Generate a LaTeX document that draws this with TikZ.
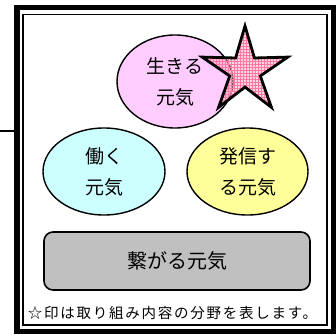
\documentclass[tikz,border=0pt]{standalone}
\usepackage{fontspec}
\setmainfont{Noto Sans CJK JP}
\usetikzlibrary{shapes.geometric,patterns}
\definecolor{ikipink}{RGB}{255,204,255}
\definecolor{hatacyan}{RGB}{204,255,255}
\definecolor{hassinyel}{RGB}{255,255,153}
\definecolor{tsunagray}{RGB}{192,192,192}
\definecolor{starpink}{RGB}{255,170,200}
\definecolor{gridpink}{RGB}{255,120,160}

\begin{document}
\begin{tikzpicture}[x=1pt,y=-1pt,
        genki/.style={ellipse,draw,line width=1.4pt,inner sep=0pt,align=center,
                      font=\fontsize{19}{31}\selectfont},
        frm/.style={rectangle,draw,inner sep=0pt,outer sep=0pt}]
        \useasboundingbox (0,0) rectangle (336,334);
        % frame
        \node[frm,line width=5.5pt,minimum width=316.5pt,minimum height=324pt] (frame) at (175.25,169.5) {};
        \node[frm,line width=1.5pt,minimum width=304pt,minimum height=310.5pt] (inner) at (175,169.75) {};
        \coordinate (lft) at (0,131);
        \draw[line width=1.2pt] (lft) -- (lft -| frame.west);
        % the four kinds of genki
        \node[genki,fill=ikipink,minimum width=116pt,minimum height=93pt] (iki) at (175,81.5) {生きる\\元気};
        \node[genki,fill=hatacyan,minimum width=122pt,minimum height=87pt] (hata) at (104,171.5) {働く\\元気};
        \node[genki,fill=hassinyel,minimum width=121pt,minimum height=87pt] (hassin) at (247.5,171.5) {発信す\\る元気};
        \node[draw,rounded corners=9pt,line width=1.6pt,fill=tsunagray,inner sep=0pt,
              minimum width=266pt,minimum height=58pt,font=\fontsize{20}{24}\selectfont] (tsuna) at (177,261) {繋がる元気};
        % star mark
        \node[star,star points=5,star point ratio=2.8,minimum size=90pt,inner sep=0pt,
              line width=2.8pt,draw,preaction={fill=starpink,fill opacity=0.5},
              pattern=grid,pattern color=gridpink] (mark) at (245,71) {};
        \node[font=\fontsize{14.5}{16}\selectfont\addfontfeature{LetterSpace=12}] (note) at (172.5,313) {☆印は取り組み内容の分野を表します。};
    \end{tikzpicture}
\end{document}
